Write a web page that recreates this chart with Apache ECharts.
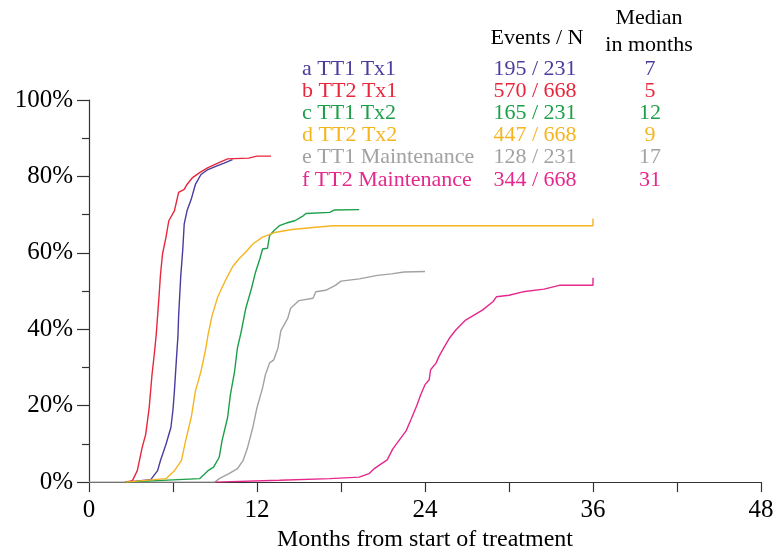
<!DOCTYPE html>
<html>
<head>
<meta charset="utf-8">
<script src="https://cdn.jsdelivr.net/npm/echarts@6/dist/echarts.min.js"></script>
<style>html,body{margin:0;padding:0;background:#fff}#c{width:778px;height:557px}</style>
</head>
<body>
<div id="c"></div>
<script>
// ---- data ----
var groupLabels = ['a TT1 Tx1', 'b TT2 Tx1', 'c TT1 Tx2', 'd TT2 Tx2', 'e TT1 Maintenance', 'f TT2 Maintenance'];
var eventsN = ['195 / 231', '570 / 668', '165 / 231', '447 / 668', '128 / 231', '344 / 668'];
var medians = ['7', '5', '12', '9', '17', '31'];
var colors = ['#4d3a9e', '#e8263c', '#1c9f48', '#f5b520', '#a2a2a2', '#e4288c'];
var xTicks = [0, 12, 24, 36, 48];
var yTicks = [0, 20, 40, 60, 80, 100];

var curveA = [[2.6,0],[4.4,0.6],[4.9,3.0],[5.1,5.6],[5.5,9.9],[5.85,14.3],[6.0,19],[6.1,23.8],[6.25,32.5],[6.35,38],[6.4,43.3],[6.55,53.7],[6.7,61],[6.8,67.5],[7.0,71.0],[7.3,74.0],[7.6,77.9],[8.0,80.5],[8.5,81.8],[9.1,82.7],[9.65,83.5],[10.25,84.4],[10.3,84.4]];
var curveB = [[2.6,0],[3.1,0.4],[3.45,3.0],[3.8,9.1],[4.05,12.5],[4.3,19.5],[4.5,28.1],[4.65,33],[4.8,38.5],[5.0,48.5],[5.1,54],[5.25,59.7],[5.5,64.1],[5.7,68.4],[6.1,71.0],[6.4,75.8],[6.8,76.6],[7.0,77.9],[7.4,79.7],[7.9,81.0],[8.5,82.3],[9.2,83.5],[9.9,84.6],[11.4,84.8],[12.0,85.3],[13.0,85.3]];
var curveC = [[2.6,0],[7.9,0.9],[8.5,3.0],[8.9,3.9],[9.3,6.5],[9.5,10.8],[9.9,16.9],[10.1,22.9],[10.4,29.0],[10.6,35.1],[10.85,39.0],[11.2,45.5],[11.6,50.6],[11.9,55.0],[12.2,58.4],[12.4,61.0],[12.75,61.2],[12.9,64.5],[13.2,65.8],[13.6,67.1],[14.1,67.8],[14.7,68.4],[15.3,69.7],[15.5,70.3],[17.2,70.6],[17.5,71.2],[19.3,71.3]];
var curveD = [[2.6,0],[5.5,0.9],[6.1,3.0],[6.6,5.6],[6.9,10.8],[7.3,16.9],[7.6,23.8],[8.0,29.0],[8.35,35.1],[8.5,38.5],[8.8,43.7],[9.2,48.5],[9.8,53.2],[10.25,56.3],[10.7,58.4],[11.2,60.2],[11.7,62.3],[12.4,64.1],[13.35,65.4],[14.5,66.1],[16.2,66.7],[17.4,67.1],[36,67.1],[36,69]];
var curveE = [[0,0],[9.0,0],[9.3,0.9],[10.0,2.2],[10.6,3.5],[11.0,5.6],[11.3,8.7],[11.7,14.3],[12.0,19.5],[12.4,24.7],[12.6,28.1],[12.9,31.2],[13.2,32.0],[13.5,35.1],[13.7,39.6],[14.2,42.9],[14.4,45.5],[15.0,47.5],[16.0,48.1],[16.2,49.8],[16.9,50.2],[17.6,51.5],[18.0,52.6],[19.3,53.2],[20.6,54.1],[21.6,54.5],[22.5,55.0],[24.0,55.1]];
var curveF = [[9.0,0],[13.6,0.5],[17.2,0.9],[19.3,1.3],[20.0,2.2],[20.4,3.6],[21.3,5.8],[21.7,8.7],[22.2,11.2],[22.65,13.4],[23.0,16.4],[23.4,19.9],[23.7,22.9],[24.0,25.5],[24.3,26.8],[24.4,29.4],[24.8,31.2],[25.0,32.9],[25.4,35.5],[25.75,37.7],[26.2,39.8],[26.9,42.4],[27.5,43.7],[28.1,45.0],[28.85,47.2],[29.1,48.5],[30.0,48.9],[31.0,49.8],[32.5,50.5],[33.6,51.5],[36.0,51.5],[36.0,53.5]];

var curves = [curveA, curveB, curveC, curveD, curveE, curveF];
var zOrder = [3, 3, 3, 3, 2, 4];

var FONT = 'Liberation Serif';
var chart = echarts.init(document.getElementById('c'), null, {renderer: 'canvas'});

var series = curves.map(function (d, i) {
  return {
    type: 'line', name: groupLabels[i], data: d, symbol: 'none',
    z: zOrder[i], animation: false,
    lineStyle: {color: colors[i], width: 1.4}
  };
});

var graphics = [];
var rowY = [69, 91, 113, 135, 157, 180];
var f22 = '22px "' + FONT + '"';
graphics.push({type: 'text', x: 537, y: 38, style: {text: 'Events / N', font: f22, fill: '#000', textAlign: 'center', textVerticalAlign: 'middle'}});
graphics.push({type: 'text', x: 649, y: 18, style: {text: 'Median', font: f22, fill: '#000', textAlign: 'center', textVerticalAlign: 'middle'}});
graphics.push({type: 'text', x: 649, y: 45, style: {text: 'in months', font: f22, fill: '#000', textAlign: 'center', textVerticalAlign: 'middle'}});
groupLabels.forEach(function (lab, i) {
  graphics.push({type: 'text', x: 302, y: rowY[i], style: {text: lab, font: f22, fill: colors[i], textAlign: 'left', textVerticalAlign: 'middle'}});
  graphics.push({type: 'text', x: 535, y: rowY[i], style: {text: eventsN[i], font: f22, fill: colors[i], textAlign: 'center', textVerticalAlign: 'middle'}});
  graphics.push({type: 'text', x: 650, y: rowY[i], style: {text: medians[i], font: f22, fill: colors[i], textAlign: 'center', textVerticalAlign: 'middle'}});
});

chart.setOption({
  animation: false,
  backgroundColor: '#fff',
  grid: {left: 89, right: 17, top: 100, bottom: 72, containLabel: false},
  xAxis: {
    type: 'value', min: xTicks[0], max: xTicks[xTicks.length - 1], interval: 12,
    name: 'Months from start of treatment', nameLocation: 'middle', nameGap: 45,
    nameTextStyle: {fontFamily: FONT, fontSize: 24, color: '#000'},
    axisLine: {show: true, lineStyle: {color: '#333', width: 1.2}},
    axisTick: {show: true, length: 10, lineStyle: {color: '#333', width: 1.2}},
    minorTick: {show: true, splitNumber: 2, length: 10, lineStyle: {color: '#333', width: 1.2}},
    splitLine: {show: false},
    axisLabel: {fontFamily: FONT, fontSize: 25, color: '#000', margin: 16}
  },
  yAxis: {
    type: 'value', min: yTicks[0], max: yTicks[yTicks.length - 1], interval: 20,
    axisLine: {show: true, lineStyle: {color: '#333', width: 1.2}},
    axisTick: {show: true, length: 12, lineStyle: {color: '#333', width: 1.2}},
    minorTick: {show: true, splitNumber: 2, length: 7, lineStyle: {color: '#333', width: 1.2}},
    splitLine: {show: false},
    axisLabel: {fontFamily: FONT, fontSize: 25, color: '#000', margin: 16, formatter: '{value}%'}
  },
  graphic: graphics,
  series: series
});
</script>
</body>
</html>
